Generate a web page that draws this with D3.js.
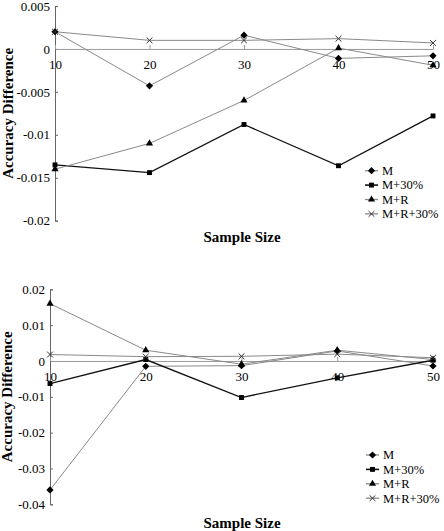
<!DOCTYPE html>
<html>
<head>
<meta charset="utf-8">
<script src="https://cdn.jsdelivr.net/npm/d3@7"></script>
<style>
  html, body { margin: 0; padding: 0; background: #fff; }
  svg { display: block; }
</style>
</head>
<body>
<svg id="chart" width="444" height="531"></svg>
<script>
// ---- Data ----
const sampleSizes = [10, 20, 30, 40, 50];
const seriesNames = ["M", "M+30%", "M+R", "M+R+30%"];

// Top panel
const topM      = [0.002, -0.0043, 0.0016, -0.0011, -0.0008];
const topM30    = [-0.0135, -0.0144, -0.0088, -0.0136, -0.0078];
const topMR     = [-0.014, -0.011, -0.006, 0.0001, -0.0019];
const topMR30   = [0.002, 0.001, 0.001, 0.0012, 0.0007];
const topYTicks = [0.005, 0, -0.005, -0.01, -0.015, -0.02];
const topYLabels = ["0.005", "0", "-0.005", "-0.01", "-0.015", "-0.02"];

// Bottom panel
const botM      = [-0.036, -0.0015, -0.0013, 0.0028, -0.0014];
const botM30    = [-0.0063, 0.0004, -0.0102, -0.0047, 0.0002];
const botMR     = [0.016, 0.003, -0.0009, 0.003, 0.0004];
const botMR30   = [0.0018, 0.0012, 0.0013, 0.0019, 0.0009];
const botYTicks = [0.02, 0.01, 0, -0.01, -0.02, -0.03, -0.04];
const botYLabels = ["0.02", "0.01", "0", "-0.01", "-0.02", "-0.03", "-0.04"];

const xTitle = "Sample Size";
const yTitle = "Accuracy Difference";

const FONT = '"Liberation Serif", serif';

// ---- Styles ----
const diamond = { draw(ctx, size) { const r = Math.sqrt(size / 2); ctx.moveTo(0, -r); ctx.lineTo(r, 0); ctx.lineTo(0, r); ctx.lineTo(-r, 0); ctx.closePath(); } };
const styles = {
  "M":       { color: "#8a8a8a", width: 1,   symbol: diamond, size: 26 },
  "M+30%":   { color: "#111",    width: 1.3, symbol: d3.symbolSquare,  size: 24 },
  "M+R":     { color: "#8a8a8a", width: 1,   symbol: d3.symbolTriangle, size: 22 },
  "M+R+30%": { color: "#8a8a8a", width: 1,   symbol: d3.symbolTimes || d3.symbolX || d3.symbolCross, size: 24, stroke: true }
};

const svg = d3.select("#chart");

function drawPanel(cfg) {
  const g = svg.append("g");
  const x = d3.scaleLinear().domain([10, 50]).range(cfg.xRange);
  const y = d3.scaleLinear().domain(cfg.yDomain).range(cfg.yRange);

  // Y axis
  const yAxis = d3.axisLeft(y).tickValues(cfg.yTicks)
    .tickFormat((d, i) => cfg.yLabels[i]).tickSizeInner(-3).tickSizeOuter(-3).tickPadding(5);
  const ya = g.append("g").attr("transform", `translate(${cfg.xRange[0]},0)`).call(yAxis);
  ya.select(".domain").attr("stroke", "#666");
  ya.selectAll(".tick line").attr("stroke", "#666");
  ya.selectAll("text").attr("fill", "#000").style("font-family", FONT).style("font-size", "13px");

  // X axis on zero line
  const xAxis = d3.axisBottom(x).tickValues(sampleSizes).tickFormat(d3.format("d"))
    .tickSizeInner(-4).tickSizeOuter(0).tickPadding(11);
  const xa = g.append("g").attr("transform", `translate(0,${y(0)})`).call(xAxis);
  xa.select(".domain").attr("stroke", "#9a9a9a");
  xa.selectAll(".tick line").attr("stroke", "#9a9a9a");
  xa.selectAll("text").attr("fill", "#000").style("font-family", FONT).style("font-size", "13px");

  // Series
  const line = d3.line().x((d, i) => x(sampleSizes[i])).y(d => y(d));
  cfg.series.forEach((vals, si) => {
    const st = styles[seriesNames[si]];
    g.append("path").datum(vals).attr("d", line)
      .attr("fill", "none").attr("stroke", st.color).attr("stroke-width", st.width);
  });
  cfg.series.forEach((vals, si) => {
    const st = styles[seriesNames[si]];
    const sym = d3.symbol().type(st.symbol).size(st.size);
    g.selectAll(null).data(vals).enter().append("path")
      .attr("d", sym)
      .attr("transform", (d, i) => `translate(${x(sampleSizes[i])},${y(d)})`)
      .attr("fill", st.stroke ? "none" : "#000")
      .attr("stroke", st.stroke ? "#333" : "none")
      .attr("stroke-width", st.stroke ? 1 : 0);
  });

  // Axis titles
  g.append("text").attr("x", 242).attr("y", cfg.xTitleY)
    .attr("text-anchor", "middle")
    .style("font-family", FONT).style("font-size", "15px").style("font-weight", "bold")
    .text(xTitle);
  const cy = (cfg.yRange[0] + cfg.yRange[1]) / 2;
  g.append("text").attr("transform", `translate(${cfg.yTitleX},${cy}) rotate(-90)`)
    .attr("text-anchor", "middle")
    .style("font-family", FONT).style("font-size", "15px").style("font-weight", "bold")
    .text(yTitle);

  // Legend
  const lg = g.append("g");
  seriesNames.forEach((name, i) => {
    const st = styles[name];
    const ly = cfg.legendY + i * 14.4;
    lg.append("line").attr("x1", cfg.legendX).attr("x2", cfg.legendX + 13)
      .attr("y1", ly).attr("y2", ly).attr("stroke", st.color).attr("stroke-width", st.width + 0.3);
    lg.append("path").attr("d", d3.symbol().type(st.symbol).size(st.size)())
      .attr("transform", `translate(${cfg.legendX + 6.5},${ly})`)
      .attr("fill", st.stroke ? "none" : "#000")
      .attr("stroke", st.stroke ? "#333" : "none");
    lg.append("text").attr("x", cfg.legendX + 17).attr("y", ly + 4.3)
      .style("font-family", FONT).style("font-size", "12.5px").text(name);
  });
}

drawPanel({
  xRange: [55, 433], yDomain: [-0.02, 0.005], yRange: [220.7, 6],
  yTicks: topYTicks, yLabels: topYLabels,
  series: [topM, topM30, topMR, topMR30],
  xTitleY: 242, yTitleX: 13, legendX: 365, legendY: 170.7
});

drawPanel({
  xRange: [50, 433], yDomain: [-0.04, 0.02], yRange: [504.3, 289.3],
  yTicks: botYTicks, yLabels: botYLabels,
  series: [botM, botM30, botMR, botMR30],
  xTitleY: 528, yTitleX: 12, legendX: 366, legendY: 455
});
</script>
</body>
</html>
